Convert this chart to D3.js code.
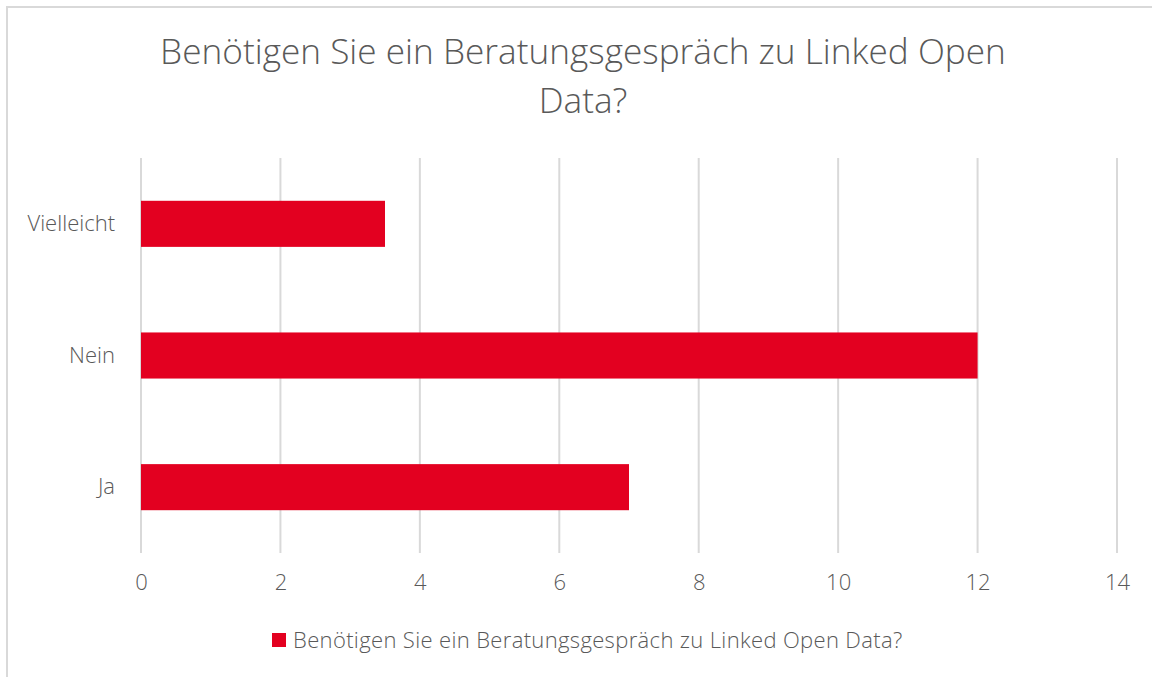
<!DOCTYPE html>
<html>
<head>
<meta charset="utf-8">
<script src="https://cdn.jsdelivr.net/npm/d3@7"></script>
<style>
  body { margin: 0; background: #fff; }
  svg { display: block; font-family: "Open Sans", sans-serif; font-weight: 300; }
</style>
</head>
<body>
<svg width="1152" height="677"></svg>
<script>
// Data
var categories = ["Vielleicht", "Nein", "Ja"];
var values = [3.5, 12, 7];
var xTicks = [0, 2, 4, 6, 8, 10, 12, 14];
var titleLines = ["Benötigen Sie ein Beratungsgespräch zu Linked Open", "Data?"];
var seriesName = "Benötigen Sie ein Beratungsgespräch zu Linked Open Data?";

var svg = d3.select("svg");
var textColor = "#595959";
var barColor = "#e30020";

// outer chart border (only left/top visible in frame)
svg.append("path")
  .attr("d", "M7,677 L7,7 L1152,7")
  .attr("fill", "none")
  .attr("stroke", "#d9d9d9")
  .attr("stroke-width", 2);

var margin = {top: 158, left: 141, right: 35, bottom: 124};
var width = 1152 - margin.left - margin.right;
var height = 677 - margin.top - margin.bottom;

var g = svg.append("g")
  .attr("transform", "translate(" + margin.left + "," + margin.top + ")");

var x = d3.scaleLinear().domain([0, 14]).range([0, width]);
var y = d3.scaleBand().domain(categories).range([0, height]).paddingInner(0.65).paddingOuter(0.325);

// gridlines
g.selectAll(".grid")
  .data(xTicks)
  .enter().append("line")
  .attr("class", "grid")
  .attr("x1", function(d) { return x(d); })
  .attr("x2", function(d) { return x(d); })
  .attr("y1", 0)
  .attr("y2", height)
  .attr("stroke", "#d9d9d9")
  .attr("stroke-width", 2);

// bars
g.selectAll(".bar")
  .data(values)
  .enter().append("rect")
  .attr("class", "bar")
  .attr("x", x(0))
  .attr("y", function(d, i) { return y(categories[i]); })
  .attr("width", function(d) { return x(d) - x(0); })
  .attr("height", y.bandwidth())
  .attr("fill", barColor);

// x axis
var xAxis = g.append("g")
  .attr("transform", "translate(0," + height + ")")
  .call(d3.axisBottom(x).tickValues(xTicks).tickSize(0).tickPadding(21));
xAxis.select(".domain").remove();
xAxis.selectAll("text")
  .attr("fill", textColor)
  .style("font-size", "22px")
  .style("font-family", "'Open Sans', sans-serif")
  .style("font-weight", 300);

// y axis
var yAxis = g.append("g")
  .call(d3.axisLeft(y).tickSize(0).tickPadding(26));
yAxis.select(".domain").remove();
yAxis.selectAll("text")
  .attr("fill", textColor)
  .style("font-size", "22px")
  .style("font-family", "'Open Sans', sans-serif")
  .style("font-weight", 300);

// title
svg.append("g").selectAll("text")
  .data(titleLines)
  .enter().append("text")
  .attr("x", 583)
  .attr("y", function(d, i) { return 64 + i * 49; })
  .attr("text-anchor", "middle")
  .attr("fill", textColor)
  .style("font-size", "35.2px")
  .text(function(d) { return d; });

// legend
var legend = svg.append("g").attr("transform", "translate(272,633)");
legend.append("rect")
  .attr("width", 14)
  .attr("height", 14)
  .attr("fill", barColor);
legend.append("text")
  .attr("x", 21)
  .attr("y", 15)
  .attr("fill", textColor)
  .style("font-size", "22px")
  .style("letter-spacing", "0.35px")
  .text(seriesName);
</script>
</body>
</html>
